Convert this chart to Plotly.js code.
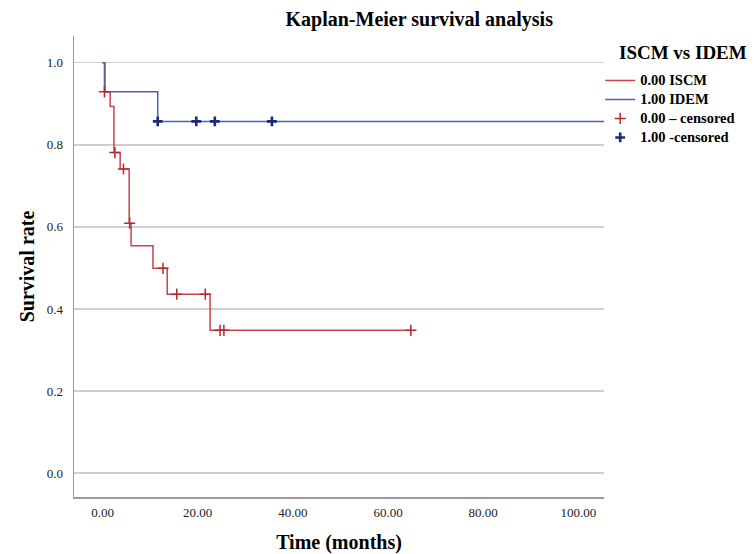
<!DOCTYPE html>
<html>
<head>
<meta charset="utf-8">
<script src="https://cdn.plot.ly/plotly-3.0.1.min.js"></script>
<style>html,body{margin:0;padding:0;background:#fff;}#chart{width:754px;height:554px;}</style>
</head>
<body>
<div id="chart"></div>
<script>
// ISCM (0.00) survival step curve
const iscmTime = [0, 0.4, 1.6, 2.4, 3.7, 5.6, 6.0, 10.6, 13.6, 22.6, 64.8];
const iscmSurv = [1.0, 0.929, 0.893, 0.781, 0.741, 0.609, 0.554, 0.499, 0.436, 0.348, 0.348];
// ISCM censored observations
const iscmCensTime = [0.4, 2.6, 4.4, 5.7, 12.7, 15.6, 21.6, 24.7, 25.5, 64.8];
const iscmCensSurv = [0.929, 0.781, 0.741, 0.609, 0.499, 0.436, 0.436, 0.348, 0.348, 0.348];
// IDEM (1.00) survival step curve
const idemTime = [0, 0.5, 11.6, 106];
const idemSurv = [1.0, 0.929, 0.857, 0.857];
// IDEM censored observations
const idemCensTime = [11.6, 19.7, 23.6, 35.6];
const idemCensSurv = [0.857, 0.857, 0.857, 0.857];

const xTicks = [0, 20, 40, 60, 80, 100];
const yTicks = [0.0, 0.2, 0.4, 0.6, 0.8, 1.0];
const legendNames = ['0.00 ISCM', '1.00 IDEM', '0.00 \u2013 censored', '1.00 -censored'];

const serif = "Liberation Serif, Times New Roman, serif";
const nm = s => '<span style="font-size:14.5px">' + s + '</span>';

const traces = [
  {x: iscmTime, y: iscmSurv, mode: 'lines', line: {shape: 'hv', color: '#c8444a', width: 1.5}, name: nm(legendNames[0])},
  {x: idemTime, y: idemSurv, mode: 'lines', line: {shape: 'hv', color: '#4a62b5', width: 1.5}, name: nm(legendNames[1])},
  {x: iscmCensTime, y: iscmCensSurv, mode: 'markers', marker: {symbol: 'cross-thin', size: 8, line: {color: '#b8282e', width: 1.5}}, name: nm(legendNames[2])},
  {x: idemCensTime, y: idemCensSurv, mode: 'markers', marker: {symbol: 'cross-thin', size: 7, line: {color: '#1b2a73', width: 2.6}}, name: nm(legendNames[3])}
];

const layout = {
  width: 754, height: 554,
  margin: {l: 74, r: 150, t: 36, b: 57, autoexpand: false},
  paper_bgcolor: '#fff', plot_bgcolor: '#fff',
  font: {family: serif, color: '#000'},
  title: {text: '<b>Kaplan-Meier survival analysis</b>', font: {family: serif, size: 20, color: '#000'}, x: 0.556, xref: 'container', xanchor: 'center', y: 0.966, yanchor: 'middle'},
  xaxis: {
    range: [-6, 105.4], tickvals: xTicks, ticktext: xTicks.map(v => v.toFixed(2)),
    showgrid: false, zeroline: false, showline: true, linecolor: '#9a9a9a', linewidth: 1.5,
    ticks: '', ticklabelstandoff: 3, tickfont: {family: serif, size: 13, color: '#222'},
    title: {text: '<b>Time (months)</b>', font: {family: serif, size: 20, color: '#000'}, standoff: 17}
  },
  yaxis: {
    range: [-0.058, 1.065], tickvals: yTicks, ticktext: yTicks.map(v => v.toFixed(1)),
    showgrid: true, gridcolor: '#cfcfcf', gridwidth: 1.5, zeroline: false, showline: true, linecolor: '#9a9a9a', linewidth: 1.5,
    ticks: '', ticklabelstandoff: 7, tickfont: {family: serif, size: 13, color: '#222'},
    title: {text: '<b>Survival rate</b>', font: {family: serif, size: 20, color: '#000'}, standoff: 6}
  },
  showlegend: true,
  legend: {
    xref: 'container', yref: 'container', x: 0.796, y: 0.881, xanchor: 'left', yanchor: 'top',
    bgcolor: 'rgba(0,0,0,0)', tracegroupgap: 0, itemwidth: 30,
    font: {family: serif, size: 12, color: '#000', weight: 'bold'}
  },
  annotations: [
    {text: '<b>ISCM vs IDEM</b>', xref: 'paper', yref: 'paper', x: 1.024, xanchor: 'left', y: 0.965, yanchor: 'middle', showarrow: false, font: {family: serif, size: 19, color: '#000'}}
  ]
};

Plotly.newPlot('chart', traces, layout, {displayModeBar: false, staticPlot: true});
</script>
</body>
</html>
